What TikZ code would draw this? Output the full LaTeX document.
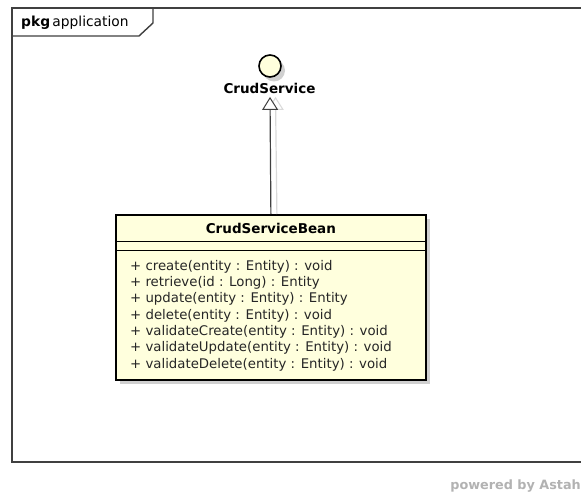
\documentclass[tikz,border=0pt]{standalone}
\usepackage{fontspec}
\setmainfont{DejaVu Sans}
\usetikzlibrary{arrows.meta}
\definecolor{classfill}{RGB}{255,255,221}
\definecolor{shadowgrey}{RGB}{208,208,208}
\definecolor{framegrey}{RGB}{64,64,64}
\begin{document}
\begin{tikzpicture}[x=1pt,y=-1pt,
  frameline/.style={draw=framegrey,line width=1.4pt},
  classbox/.style={draw=black,line width=1.8pt,fill=classfill,rectangle,inner sep=0pt,anchor=north west},
  shadowfill/.style={fill=shadowgrey},
  realize/.style={draw=black!75,line width=1.2pt,-{Triangle[open,length=13pt,width=16pt,fill=white,line width=1pt]}},
  realizeshadow/.style={draw=black!15,line width=1.2pt,-{Triangle[open,length=13pt,width=16pt,line width=1pt]}},
  txt/.style={font=\fontsize{13.3}{16.3}\selectfont,inner sep=0pt,text=black!85},
  btxt/.style={font=\fontsize{13.5}{16}\selectfont\bfseries,inner sep=0pt}]
\useasboundingbox (0,0) rectangle (581,495);
\fill[white] (0,0) rectangle (581,495);

% package frame with its name tab
\draw[frameline] (581,8) -- (12,8) -- (12,462) -- (581,462);
\draw[frameline] (12,36) -- (139,36) -- (153,23) -- (153,8);
\node[anchor=west,inner sep=0pt,font=\fontsize{13.8}{16}\selectfont] (pkglabel) at (21,22.5) {\textbf{pkg}\,application};

% interface (lollipop) with its name
\fill[shadowfill] (274,70.5) circle (11);
\node[circle,draw=black,line width=1.6pt,fill=classfill,minimum size=22pt,inner sep=0pt] (iface) at (270,66) {};
\node[btxt] (ifacelbl) at (269.5,88.5) {CrudService};

% class box with its shadow
\fill[shadowfill] (119.5,218.5) rectangle (429.5,383.5);
\node[classbox,minimum width=310pt,minimum height=165pt] (bean) at (115,214) {};
\draw[black,line width=1pt] ([yshift=-27pt]bean.north west) -- ([yshift=-27pt]bean.north east);
\draw[black,line width=1pt] ([yshift=-36.5pt]bean.north west) -- ([yshift=-36.5pt]bean.north east);
\node[btxt] (beanname) at ([yshift=-14pt]bean.north) {CrudServiceBean};
\node[txt,anchor=north west,align=left] (ops) at (130,260)
  {+ create(entity : Entity) : void\\
   + retrieve(id : Long) : Entity\\
   + update(entity : Entity) : Entity\\
   + delete(entity : Entity) : void\\
   + validateCreate(entity : Entity) : void\\
   + validateUpdate(entity : Entity) : void\\
   + validateDelete(entity : Entity) : void};

% realization connector
\draw[realizeshadow] ([xshift=6pt]bean.north) -- ([xshift=6pt,yshift=-3pt]ifacelbl.south);
\draw[realize] (bean.north) -- ([xshift=0.5pt,yshift=-3pt]ifacelbl.south);

\node[anchor=east,inner sep=0pt,text=black!30,font=\fontsize{12.8}{15}\selectfont\bfseries] (credit) at (581,486) {powered by Astah};
\end{tikzpicture}
\end{document}
